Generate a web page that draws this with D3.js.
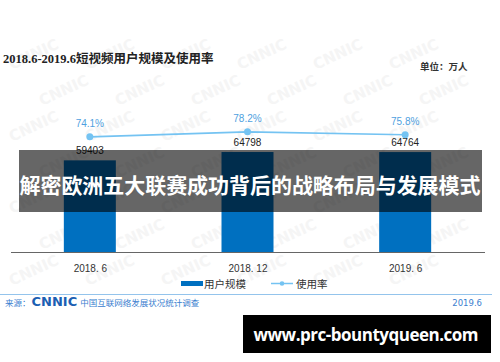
<!DOCTYPE html>
<html>
<head>
<meta charset="utf-8">
<script src="https://cdn.jsdelivr.net/npm/d3@7"></script>
<style>
  body { margin: 0; background: #fff; }
  svg { display: block; }
</style>
</head>
<body>
<div class="chart"></div>
<script>
const periods = ["2018.6", "2018.12", "2019.6"];
const tickLabels = ["2018. 6", "2018. 12", "2019. 6"];
const users = [59403, 64798, 64764];
const rates = [74.1, 78.2, 75.8];

const width = 500, height = 362;

const svg = d3.select(".chart")
    .append("svg")
    .attr("width", width)
    .attr("height", height);

// faint CNNIC watermark, kept inside the picture
const wm = svg.append("g").attr("fill", "#f5f5f5");
for (let row = 0; row < 7; row++) {
    const yy = 70 + row * 36;
    for (let col = 0; col < 6; col++) {
        const xx = 12 + col * 76 + (row % 2) * 30;
        if (xx > 440) continue;
        wm.append("text")
            .attr("transform", `translate(${xx}, ${yy}) rotate(-25)`)
            .attr("font-family", "DejaVu Sans")
            .attr("font-weight", "bold")
            .attr("font-size", 15)
            .text("CNNIC");
    }
}

// title + unit
svg.append("text")
    .attr("x", 3).attr("y", 63)
    .attr("font-family", "Liberation Serif, 'Noto Sans CJK SC'")
    .attr("font-weight", "bold")
    .attr("font-size", 12.5)
    .attr("fill", "#222")
    .text("2018.6-2019.6短视频用户规模及使用率");

svg.append("text")
    .attr("x", 420).attr("y", 70)
    .attr("font-family", "'Noto Sans CJK SC'")
    .attr("font-weight", "bold")
    .attr("font-size", 9.5)
    .attr("fill", "#333")
    .text("单位：万人");

const x = d3.scalePoint()
    .domain(periods)
    .range([11, 484])
    .padding(0.5);

const y = d3.scaleLinear()
    .domain([0, 70000])
    .range([252, 144]);

const yRate = d3.scaleLinear()
    .domain([60, 90])
    .range([154, 117.5]);

const barW = 52;

// bars
svg.append("g")
    .selectAll("rect")
    .data(users)
    .join("rect")
    .attr("x", (d, i) => x(periods[i]) - barW / 2)
    .attr("y", d => y(d))
    .attr("width", barW)
    .attr("height", d => y(0) - y(d))
    .attr("fill", "#0070c0");

// bar value labels
svg.append("g")
    .selectAll("text")
    .data(users)
    .join("text")
    .attr("x", (d, i) => x(periods[i]))
    .attr("y", d => y(d) - 6)
    .attr("text-anchor", "middle")
    .attr("font-family", "Liberation Sans, Arial")
    .attr("font-size", 10)
    .attr("fill", "#222")
    .text(d => d);

// axis
const axis = svg.append("g")
    .attr("transform", `translate(0, ${y(0)})`)
    .call(d3.axisBottom(x).tickSize(0).tickFormat((d, i) => tickLabels[i]));
axis.select(".domain")
    .attr("d", "M11,0.5H485")
    .attr("stroke", "#666")
    .attr("stroke-width", 1.2);
axis.selectAll("text")
    .attr("dy", 0)
    .attr("y", 20)
    .attr("font-family", "Liberation Sans, Arial")
    .attr("font-size", 10)
    .attr("fill", "#333");

// rate line
const line = d3.line()
    .x((d, i) => x(periods[i]))
    .y(d => yRate(d));

svg.append("path")
    .datum(rates)
    .attr("d", line)
    .attr("fill", "none")
    .attr("stroke", "#74c3f2")
    .attr("stroke-width", 1.6);

svg.append("g")
    .selectAll("circle")
    .data(rates)
    .join("circle")
    .attr("cx", (d, i) => x(periods[i]))
    .attr("cy", d => yRate(d))
    .attr("r", 3.5)
    .attr("fill", "#74c3f2");

svg.append("g")
    .selectAll("text")
    .data(rates)
    .join("text")
    .attr("x", (d, i) => x(periods[i]))
    .attr("y", d => yRate(d) - 10)
    .attr("text-anchor", "middle")
    .attr("font-family", "Liberation Sans, Arial")
    .attr("font-size", 10)
    .attr("fill", "#4f9fe0")
    .text(d => d.toFixed(1) + "%");

// legend
const legend = svg.append("g");
legend.append("rect")
    .attr("x", 181).attr("y", 281)
    .attr("width", 22).attr("height", 5)
    .attr("fill", "#0070c0");
legend.append("text")
    .attr("x", 204).attr("y", 288)
    .attr("font-family", "'Noto Sans CJK SC'")
    .attr("font-size", 10.5)
    .attr("fill", "#333")
    .text("用户规模");
legend.append("line")
    .attr("x1", 271).attr("x2", 293)
    .attr("y1", 283.5).attr("y2", 283.5)
    .attr("stroke", "#74c3f2")
    .attr("stroke-width", 1.5);
legend.append("circle")
    .attr("cx", 282).attr("cy", 283.5)
    .attr("r", 2.3)
    .attr("fill", "#74c3f2");
legend.append("text")
    .attr("x", 296).attr("y", 288)
    .attr("font-family", "'Noto Sans CJK SC'")
    .attr("font-size", 10.5)
    .attr("fill", "#333")
    .text("使用率");

// footer rule + source
svg.append("line")
    .attr("x1", 0).attr("x2", 492)
    .attr("y1", 294.5).attr("y2", 294.5)
    .attr("stroke", "#94c4ec")
    .attr("stroke-width", 1.2);

const src = svg.append("text")
    .attr("x", 5).attr("y", 306)
    .attr("font-family", "'Noto Sans CJK SC'")
    .attr("font-size", 8.5)
    .attr("fill", "#3b80cf");
src.append("tspan").text("来源：");
src.append("tspan")
    .attr("font-family", "DejaVu Sans")
    .attr("font-weight", "bold")
    .attr("font-size", 13)
    .attr("fill", "#1c5fb3")
    .attr("dx", 1)
    .text("CNNIC");
src.append("tspan").attr("dx", 3).text("中国互联网络发展状况统计调查");

svg.append("text")
    .attr("x", 482).attr("y", 306)
    .attr("text-anchor", "end")
    .attr("font-family", "DejaVu Sans")
    .attr("font-size", 8.5)
    .attr("fill", "#3b80cf")
    .text("2019.6");

// overlay band with headline
svg.append("rect")
    .attr("x", 19).attr("y", 150)
    .attr("width", 463).attr("height", 62)
    .attr("fill", "rgba(0,0,0,0.6)");

svg.append("text")
    .attr("x", 250).attr("y", 193)
    .attr("text-anchor", "middle")
    .attr("font-family", "'Noto Sans CJK SC'")
    .attr("font-weight", "bold")
    .attr("font-size", 21)
    .attr("textLength", 461)
    .attr("fill", "#fff")
    .text("解密欧洲五大联赛成功背后的战略布局与发展模式");

// site badge
svg.append("rect")
    .attr("x", 243).attr("y", 315)
    .attr("width", 248).attr("height", 38)
    .attr("fill", "#000");

svg.append("text")
    .attr("x", 366).attr("y", 341)
    .attr("text-anchor", "middle")
    .attr("font-family", "'Open Sans', 'DejaVu Sans'")
    .attr("font-weight", "bold")
    .attr("font-size", 17)
    .attr("textLength", 225)
    .attr("fill", "#fff")
    .text("www.prc-bountyqueen.com");
</script>
</body>
</html>
